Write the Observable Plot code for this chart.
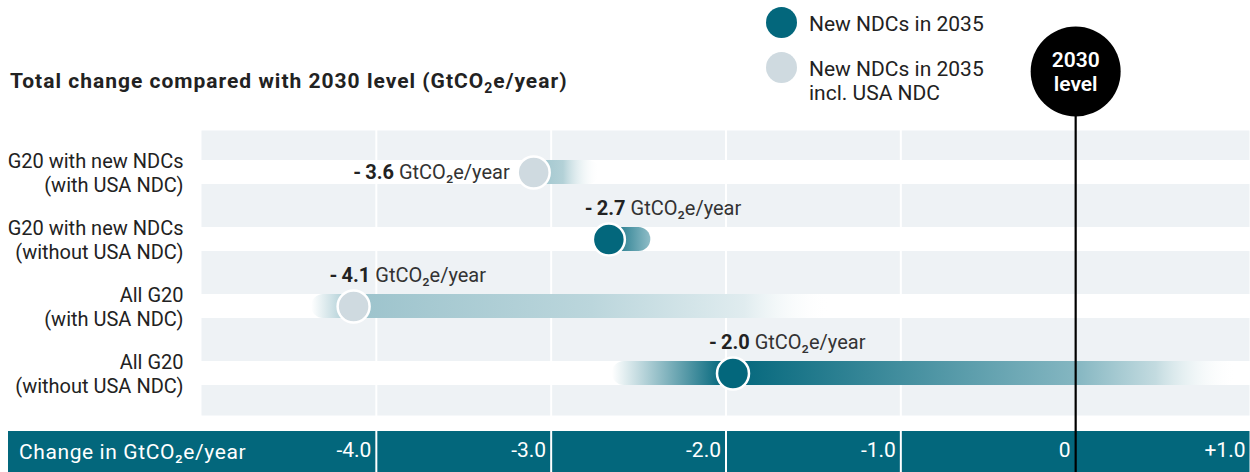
<!DOCTYPE html>
<html><head><meta charset="utf-8">
<script src="https://cdn.jsdelivr.net/npm/d3@7"></script>
<script src="https://cdn.jsdelivr.net/npm/@observablehq/plot@0.6"></script>
<style>
body{margin:0;background:#fff;font-family:Roboto,sans-serif;color:#222}
#wrap{position:relative;width:1250px;height:472px;overflow:hidden}
#axisbar{position:absolute;left:8px;top:431px;width:1242px;height:41px;background:#03677c}
#axistitle{position:absolute;left:19px;top:440px;font-size:21px;line-height:24px;color:#fff;white-space:nowrap;letter-spacing:0.6px}
#chart{position:absolute;left:0;top:0}
#title{position:absolute;left:10px;top:69px;font-size:21px;font-weight:700;line-height:24px;white-space:nowrap;letter-spacing:1px;color:#222}
#title sub{font-size:14px;vertical-align:-5px;line-height:0}
.lg{position:absolute;left:766px;font-size:21px;line-height:24px;color:#222}
.lg .c{position:absolute;left:0;width:31px;height:31px;border-radius:50%}
.lg .t{position:absolute;left:43px;white-space:nowrap}
</style></head><body>
<div id="wrap">
  <div id="axisbar"></div>
  <div id="axistitle">Change in GtCO₂e/year</div>
  <div id="title">Total change compared with 2030 level (GtCO<sub>2</sub>e/year)</div>
  <div class="lg" style="top:7px"><div class="c" style="background:#03677c"></div><div class="t" style="top:5px">New NDCs in 2035</div></div>
  <div class="lg" style="top:52px"><div class="c" style="background:#cfdae0"></div><div class="t" style="top:5px">New NDCs in 2035<br>incl. USA NDC</div></div>
  <div id="chart"></div>
</div>
<script>
// ---- data ----
const rows = [
  "G20 with new NDCs\n(with USA NDC)",
  "G20 with new NDCs\n(without USA NDC)",
  "All G20\n(with USA NDC)",
  "All G20\n(without USA NDC)"
];
const scenario = ["incl", "new", "incl", "new"];          // incl = incl. USA NDC, new = new NDCs
const dotValues = [-3.1, -2.67, -4.13, -1.96];             // circle positions as drawn
const labelValues = [-3.6, -2.7, -4.1, -2.0];              // printed values
const barStart = [-3.1, -2.67, -4.37, -2.65];
const barEnd = [-2.72, -2.43, -1.4, 0.92];
const xDomain = [-5, 1];
const tickValues = [-4, -3, -2, -1, 0, 1];
const tickLabels = ["-4.0", "-3.0", "-2.0", "-1.0", "0", "+1.0"];
const unit = "GtCO\u2082e/year";

// ---- build ----
const DARK = "#03677c", LIGHT = "#cfdae0", LIGHTBAR = "#9cc3cc";
const data = rows.map((r, i) => ({
  row: r, scen: scenario[i], v: dotValues[i], label: labelValues[i],
  x1: barStart[i], x2: barEnd[i], i
}));

function stops(d) {
  const f = x => (x - d.x1) / (d.x2 - d.x1);
  const c = f(d.v);
  if (d.scen === "incl") {
    if (c <= 0.001) return [[0, LIGHTBAR, 1], [0.45, "#b3d1d7", 1], [1, "#ffffff", 0]];
    const r = t => c + (1 - c) * t;
    return [[0, LIGHTBAR, 0], [c, LIGHTBAR, 1], [r(0.5), "#bbd6dc", 1], [r(0.82), "#e0ecef", 1], [1, "#ffffff", 0]];
  } else {
    if (c <= 0.001) return [[0, "#0b6c80", 1], [1, "#8fbdc7", 1]];
    const z = f(0);
    return [[0, DARK, 0], [c * 0.92, DARK, 1], [c, DARK, 1], [z, "#84b6c1", 1], [z + (1 - z) * 0.5, "#c3dbe0", 1], [1, "#ffffff", 0]];
  }
}

const labelText = d => "-\u2009" + Math.abs(d.label).toFixed(1) + " " + unit;

const plot = Plot.plot({
  width: 1250, height: 472,
  marginLeft: 201, marginRight: 0, marginTop: 130, marginBottom: 57,
  style: {fontFamily: "Roboto, sans-serif", background: "transparent", overflow: "visible"},
  x: {domain: xDomain, axis: null},
  y: {type: "band", domain: rows, paddingInner: 0.64, paddingOuter: 0.42, axis: null},
  marks: [
    Plot.frame({fill: "#eef2f5", stroke: "none"}),
    Plot.barX(data, {y: "row", x1: () => xDomain[0], x2: () => xDomain[1], fill: "white"}),
    Plot.ruleX(tickValues.filter(t => t !== 0), {x: d => d, stroke: "white", strokeWidth: 2, insetBottom: -57}),
    ...data.map(d => Plot.barX([d], {y: "row", x1: "x1", x2: "x2", fill: `url(#grad${d.i})`, rx: 12})),
    Plot.dot(data, {x: "v", y: "row", r: 16, fill: d => d.scen === "new" ? DARK : LIGHT, stroke: "white", strokeWidth: 2.5}),
    // first row: label to the left of the circle
    Plot.text(data.filter(d => d.i === 0), {x: "v", y: "row", text: labelText, textAnchor: "end", dx: -24, fontSize: 20, fill: "#333"}),
    // other rows: label above the circle
    Plot.text(data.filter(d => d.i !== 0), {x: "v", y: "row", text: labelText, textAnchor: "start", dx: -24, dy: -31, fontSize: 20, fill: "#333"}),
    Plot.ruleX([0], {x: d => d, stroke: "black", strokeWidth: 2.2, insetTop: -14, insetBottom: -57}),
    Plot.dot([0], {x: d => d, frameAnchor: "top", dy: -59, r: 45, fill: "black"}),
    Plot.text([0], {x: d => d, frameAnchor: "top", lineAnchor: "middle", dy: -59, text: () => "2030\nlevel", fill: "white", fontWeight: 600, fontSize: 21, lineHeight: 1.16}),
    Plot.axisY({tickSize: 0, tickPadding: 18, fontSize: 20, lineHeight: 1.2, fill: "#222", label: null}),
    Plot.axisX({ticks: tickValues, tickFormat: d => tickLabels[tickValues.indexOf(d)], tickSize: 0, tickPadding: 27,
      textAnchor: "end", dx: -5, fill: "white", fontSize: 21, label: null})
  ]
});

// gradients
const svg = d3.select(plot);
const defs = svg.insert("defs", ":first-child");
data.forEach(d => {
  const g = defs.append("linearGradient").attr("id", `grad${d.i}`).attr("x1", 0).attr("x2", 1).attr("y1", 0).attr("y2", 0);
  stops(d).forEach(([o, c, op]) => g.append("stop").attr("offset", o).attr("stop-color", c).attr("stop-opacity", op));
});

// value labels: bold number + regular unit
svg.selectAll("text").each(function() {
  const t = this.textContent;
  if (!t.endsWith(unit) || this.querySelector("tspan")) return;
  const el = d3.select(this);
  const cut = t.indexOf(" ");
  el.text(null);
  el.append("tspan").attr("font-weight", 700).attr("fill", "#222").text(t.slice(0, cut));
  el.append("tspan").text(t.slice(cut));
});

document.getElementById("chart").appendChild(plot);
</script>
</body></html>
